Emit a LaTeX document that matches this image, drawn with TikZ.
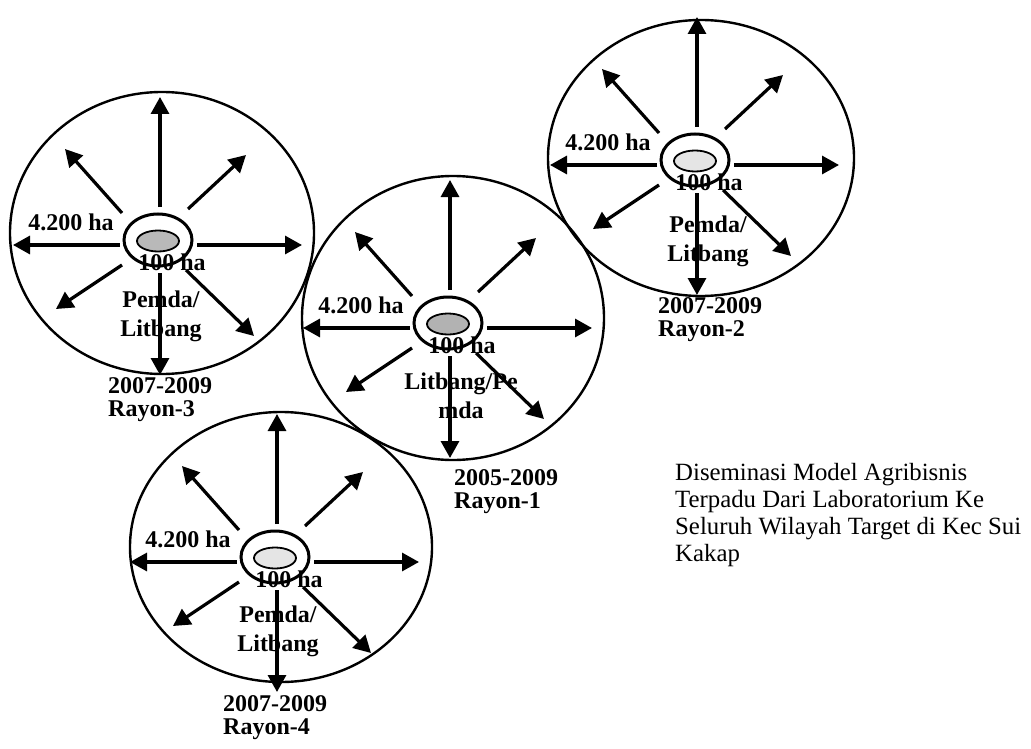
\documentclass[tikz,border=0pt]{standalone}
\usepackage{fontspec}
\setmainfont{Liberation Serif}
\usetikzlibrary{arrows.meta,shapes.geometric,calc}
\tikzset{
  outer/.style={draw, ellipse, line width=2.4pt, inner sep=0pt},
  ring/.style={draw, ellipse, line width=3pt, minimum width=68pt, minimum height=52pt, inner sep=0pt},
  core/.style={draw, ellipse, line width=1.8pt, minimum width=42pt, minimum height=21pt, inner sep=0pt},
  spoke/.style={line width=3.2pt, -{Triangle[length=17pt,width=18pt]}},
  lbl/.style={font=\fontsize{24}{29}\selectfont\bfseries, inner sep=0pt, align=center},
  yr/.style={font=\fontsize{24}{23}\selectfont\bfseries, inner sep=0pt, align=left, anchor=west},
  titletext/.style={font=\fontsize{24.8}{27}\selectfont, inner sep=0pt, align=left, anchor=west},
}
\newcommand{\myrayon}[8]{%
  \coordinate (#1c) at (#2,#3);
  \node[outer, minimum width={2*#6pt}, minimum height={2*#7pt}] (#1out) at ($(#1c)+(#4,#5)$) {};
  \node[ring] (#1ring) at ($(#1c)+(-2,-5)$) {};
  \node[core, fill=#8] (#1core) at ($(#1c)+(-2,-4)$) {};
  \draw[spoke] ($(#1c)+(0,-38)$) -- ($(#1c)+(0,-148)$);
  \draw[spoke] ($(#1c)+(0,28)$) -- ($(#1c)+(0,130)$);
  \draw[spoke] ($(#1c)+(-40,0)$) -- ($(#1c)+(-147,0)$);
  \draw[spoke] ($(#1c)+(37,0)$) -- ($(#1c)+(142,0)$);
  \draw[spoke] ($(#1c)+(-38,-32)$) -- ($(#1c)+(-95,-96)$);
  \draw[spoke] ($(#1c)+(28,-36)$) -- ($(#1c)+(86,-90)$);
  \draw[spoke] ($(#1c)+(-38,20)$) -- ($(#1c)+(-104,64)$);
  \draw[spoke] ($(#1c)+(26,25)$) -- ($(#1c)+(94,91)$);
  \node[lbl] (#1area) at ($(#1c)+(-89,-23)$) {4.200 ha};
  \node[lbl] (#1small) at ($(#1c)+(12,17)$) {100 ha};
}
\begin{document}
\begin{tikzpicture}[x=1pt,y=-1pt]
\useasboundingbox (0,0) rectangle (1031,749);
\fill[white] (0,0) rectangle (1031,749);

\myrayon{r3}{160}{245}{2}{-12}{152}{141}{gray!55}
\myrayon{r2}{697}{165}{4}{-7}{153}{138}{gray!20}
\myrayon{r1}{450}{328}{3}{-10}{151}{142}{gray!60}
\myrayon{r4}{277}{562}{4}{-15}{151}{135}{gray!20}

\node[lbl] (r3who) at ($(r3c)+(1,71)$) {Pemda/\\Litbang};
\node[lbl] (r2who) at ($(r2c)+(11,76)$) {Pemda/\\Litbang};
\node[lbl] (r1who) at ($(r1c)+(11,68)$) {Litbang/Pe\\mda};
\node[lbl] (r4who) at ($(r4c)+(1,69)$) {Pemda/\\Litbang};

\node[yr] (r3yr) at (108,400) {2007-2009\\Rayon-3};
\node[yr] (r2yr) at (658,320) {2007-2009\\Rayon-2};
\node[yr] (r1yr) at (454,492) {2005-2009\\Rayon-1};
\node[yr] (r4yr) at (223,718) {2007-2009\\Rayon-4};

\node[titletext] (title) at (675,515.5) {Diseminasi Model Agribisnis\\Terpadu Dari Laboratorium Ke\\Seluruh Wilayah Target di Kec Sui\\Kakap};
\end{tikzpicture}
\end{document}
